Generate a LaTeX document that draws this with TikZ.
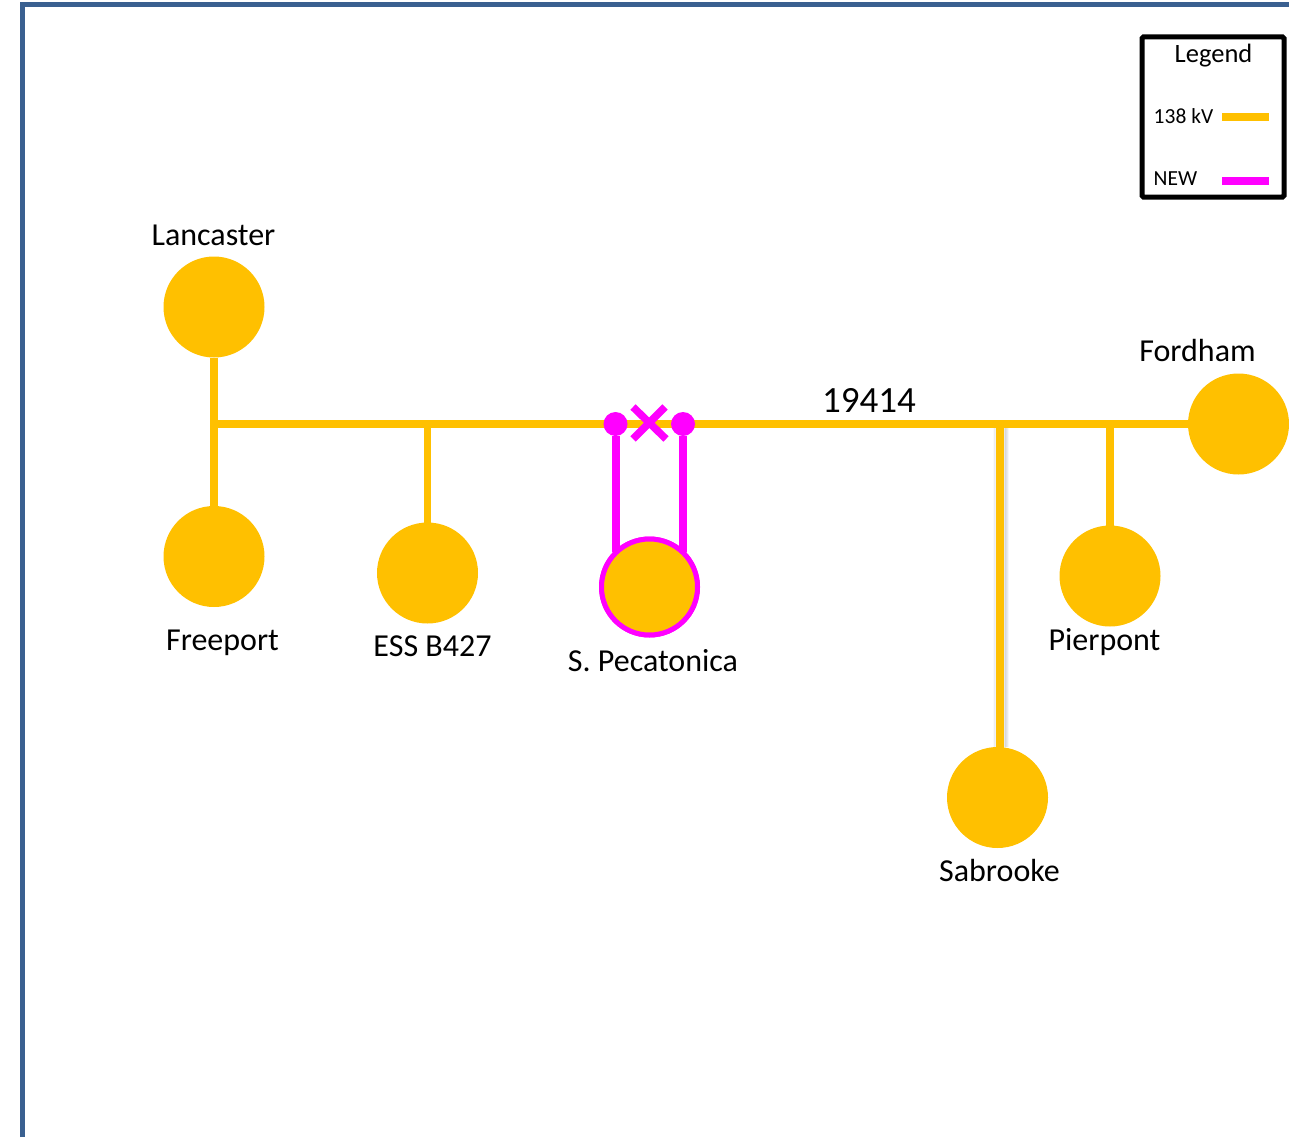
\documentclass[tikz,border=0pt]{standalone}
\usepackage{fontspec}
\setmainfont{Carlito}
\definecolor{amber}{HTML}{FFC000}
\definecolor{newline}{HTML}{FF00FF}
\definecolor{frameblue}{HTML}{3A6090}
\begin{document}
\begin{tikzpicture}[x=1pt,y=-1pt,
  bus/.style={circle,fill=amber,minimum size=101pt,inner sep=0pt,outer sep=0pt},
  newbus/.style={circle,fill=amber,draw=newline,line width=5pt,minimum size=96pt,inner sep=0pt,outer sep=0pt},
  tap/.style={circle,fill=newline,minimum size=24pt,inner sep=0pt,outer sep=0pt},
  hv/.style={draw=amber,line width=7.5pt},
  hvmain/.style={draw=amber,line width=7.5pt},
  newln/.style={draw=newline,line width=8pt},
  lbl/.style={font=\fontsize{32pt}{36pt}\selectfont,text=black,inner sep=0pt,anchor=center},
  leg/.style={font=\fontsize{21.5pt}{25pt}\selectfont,text=black,inner sep=0pt},
  keyline/.style={line width=8pt}]
\useasboundingbox (0,0) rectangle (1289,1137);
% frame
\coordinate (fa) at (22,1137);
\coordinate (fb) at (22,5);
\coordinate (fc) at (1289,5);
\draw[frameblue,line width=5pt,line join=miter] (fa) -- (fb) -- (fc);
% buses
\node[bus] (lan) at (214,307) {};
\node[bus] (fre) at (214,556.5) {};
\node[bus] (ess) at (427.5,573) {};
\node[newbus] (pec) at (649.5,587) {};
\node[bus] (for) at (1238.5,424) {};
\node[bus] (pie) at (1110,576) {};
\node[bus] (sab) at (997.5,797.5) {};
\coordinate (jn) at (217,424);
\coordinate (sj) at (1000,424);
% shadow of the Sabrooke tie
\foreach \d/\o in {8/.03,7/.05,6/.07,5/.09,-5/.05,-6/.02}{
  \draw[black,line width=1.2pt,opacity=\o] ([xshift=\d pt]sj) -- ([xshift=\d pt]sj |- sab.north);
}
% 138 kV lines
\draw[hv] (lan) -- (fre);
\draw[hvmain] (jn) -- (for);
\draw[hv] (ess |- jn) -- (ess);
\draw[hv] (pie |- jn) -- (pie);
\draw[hv] (sj) -- ([yshift=-3pt]sj |- sab.north);
% new tap
\node[tap] (ta) at (615.5,424) {};
\node[tap] (tb) at (683,424) {};
\coordinate (pa) at (615.5,552);
\coordinate (pb) at (683,552);
\draw[newln] (ta) -- (pa);
\draw[newln] (tb) -- (pb);
\node[newbus] at (pec) {};
\coordinate (xa) at (633,407);
\coordinate (xb) at (666,439);
\coordinate (xc) at (665,407);
\coordinate (xd) at (633,439);
\draw[newline,line width=7.5pt] (xa) -- (xb) (xc) -- (xd);
% labels
\node[lbl] (tlan) at (213.5,235.5) {Lancaster};
\node[lbl] (tfre) at (222.5,642.5) {Freeport};
\node[lbl] (tess) at (432.5,646.5) {ESS B427};
\node[lbl] (tpec) at (653,661) {S. Pecatonica};
\node[lbl] (tsab) at (999.5,870) {Sabrooke};
\node[lbl] (tpie) at (1104.5,642) {Pierpont};
\node[lbl] (tfor) at (1197.5,351) {Fordham};
\node[lbl,font=\fontsize{37pt}{40pt}\selectfont] (tnum) at (869,400.5) {19414};
% legend
\node[draw=black,line width=5pt,rounded corners=1.5pt,minimum width=142pt,minimum height=160pt,inner sep=0pt,outer sep=0pt] (lg) at (1213,117) {};
\node[leg,font=\fontsize{26.5pt}{30pt}\selectfont] (lgt) at (1213.5,56) {Legend};
\node[leg,anchor=west] (l138) at (1153.5,116.5) {138 kV};
\node[leg,anchor=west] (lnew) at (1153.5,179) {NEW};
\coordinate (ka) at (1222,117);
\coordinate (kb) at (1269,117);
\coordinate (kc) at (1222,181);
\coordinate (kd) at (1269,181);
\draw[amber,keyline] (ka) -- (kb);
\draw[newline,keyline] (kc) -- (kd);
\end{tikzpicture}
\end{document}
